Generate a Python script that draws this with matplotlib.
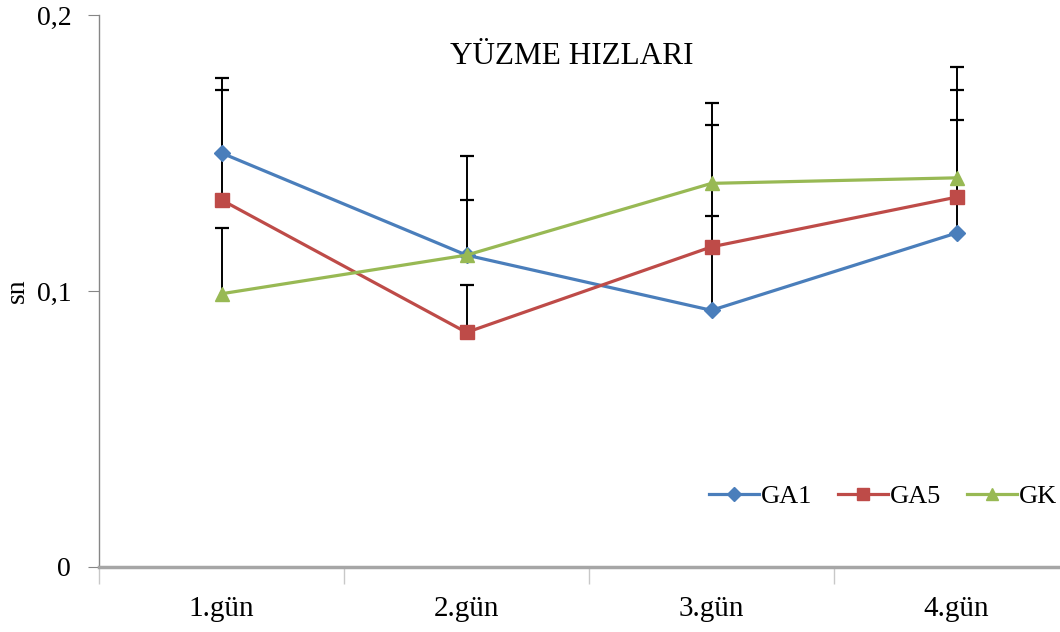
import matplotlib.pyplot as plt
import numpy as np

plt.rcParams['font.family'] = ['Liberation Serif', 'DejaVu Serif']

# Veriler
gunler = ['1.gün', '2.gün', '3.gün', '4.gün']
ga1 = [0.150, 0.113, 0.093, 0.121]
ga5 = [0.133, 0.085, 0.116, 0.134]
gk = [0.099, 0.113, 0.139, 0.141]

# standart sapmalar (yalnız üst yönde çizilir)
ga1_sd = [0.027, 0.020, 0.034, 0.041]
ga5_sd = [0.040, 0.017, 0.044, 0.039]
gk_sd = [0.024, 0.036, 0.029, 0.040]

seriler = [
    ('GA1', ga1, ga1_sd, '#4A7EBB', 'D', 8),
    ('GA5', ga5, ga5_sd, '#BE4B48', 's', 10),
    ('GK', gk, gk_sd, '#98B954', '^', 10),
]

fig = plt.figure(figsize=(10.6, 6.32), dpi=100)
ax = fig.add_axes([99 / 1060, 65 / 632, 980 / 1060, 552 / 632])

x = np.arange(1, len(gunler) + 1)

for ad, deger, sd, renk, isaret, boy in seriler:
    ax.plot(x, deger, color=renk, lw=2.3, marker=isaret, ms=boy,
            label=ad, zorder=3)

for ad, deger, sd, renk, isaret, boy in seriler:
    alt = np.zeros(len(sd))
    _, caps, _ = ax.errorbar(x, deger, yerr=[alt, sd], fmt='none',
                             ecolor='black', elinewidth=1.4, capsize=5,
                             capthick=1.6, zorder=2)
    caps[0].set_visible(False)

ax.set_xlim(0.5, 4.5)
ax.set_ylim(0, 0.2)
ax.set_yticks([0, 0.1, 0.2])
ax.set_yticklabels(['0', '0,1', '0,2'])
ax.set_xticks(x)
ax.set_xticklabels(gunler)
ax.set_xticks(np.arange(0.5, 5, 1), minor=True)

ax.tick_params(axis='x', which='major', length=0, pad=21, labelsize=21)
ax.tick_params(axis='x', which='minor', length=12, color='#C8C8C8', width=1)
ax.tick_params(axis='y', length=8, color='#868686', labelsize=20, pad=12)

for s in ['top', 'right']:
    ax.spines[s].set_visible(False)
ax.spines['left'].set_color('#868686')
ax.spines['left'].set_linewidth(1.0)
ax.spines['bottom'].set_color('#A6A6A6')
ax.spines['bottom'].set_linewidth(2.5)

ax.set_ylabel('sn', fontsize=20)
ax.yaxis.set_label_coords(-0.071, 0.5)
ax.text(0.482, 0.925, 'YÜZME HIZLARI', transform=ax.transAxes,
        ha='center', va='center', fontsize=22.5)

ax.legend(loc='center right', bbox_to_anchor=(0.9776, 0.1286), ncol=3,
          frameon=False, fontsize=19, handlelength=1.9, handletextpad=0.05,
          columnspacing=1.0, borderpad=0, borderaxespad=0, markerscale=0.9)

fig.savefig('out.png', dpi=100)
